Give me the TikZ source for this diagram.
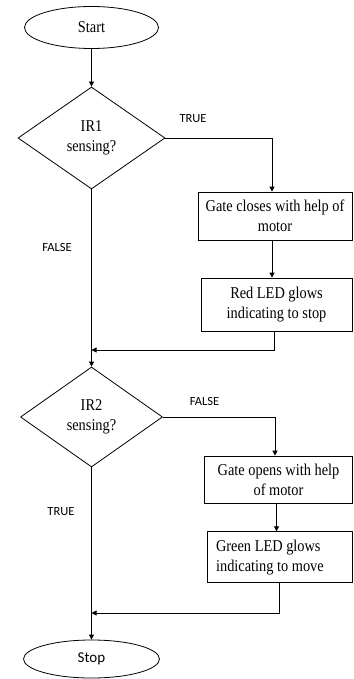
\documentclass[tikz,border=0pt]{standalone}
\usepackage{fontspec}
\setmainfont[FakeStretch=0.87]{Liberation Serif}
\newfontfamily\lblfont{Carlito}
\usetikzlibrary{shapes.geometric,arrows.meta}
\begin{document}
\begin{tikzpicture}[x=1pt,y=-1pt,
  every node/.style={font=\fontsize{16.5}{20}\selectfont, inner sep=0pt},
  term/.style={draw, ellipse, line width=0.8pt},
  decision/.style={draw, diamond, line width=0.8pt, align=center},
  procbox/.style={draw, rectangle, line width=0.8pt, align=center},
  lbl/.style={font=\lblfont\fontsize{12.5}{14}\selectfont},
  conn/.style={line width=0.8pt},
  arr/.style={conn, -{Triangle[length=5pt,width=5pt]}}
]
\useasboundingbox (0,0) rectangle (353,679);
\node[term, minimum width=134pt, minimum height=42pt] (start) at (91.5,27.5) {Start};
\node[decision, minimum width=147pt, minimum height=102pt] (d1) at (91.5,138) {IR1\\sensing?};
\node[procbox, minimum width=154pt, minimum height=48pt] (b1) at (275,216) {Gate closes with help of\\motor};
\node[procbox, minimum width=151pt, minimum height=53pt] (b2) at (276.5,304.5) {Red LED glows\\indicating to stop};
\node[decision, minimum width=142pt, minimum height=100pt] (d2) at (91.5,417) {IR2\\sensing?};
\node[procbox, minimum width=148pt, minimum height=47pt] (b3) at (278.5,479.5) {Gate opens with help\\of motor};
\node[procbox, minimum width=145pt, minimum height=51pt] (b4) at (279.8,557.2) {};
\node[align=left, anchor=west] (b4t) at ([xshift=9pt]b4.west) {Green LED glows\\indicating to move};
\node[term, font=\lblfont\fontsize{15}{18}\selectfont, minimum width=136pt, minimum height=38pt] (stop) at (91.5,659) {Stop};
\coordinate (m1) at (91.5,350);
\coordinate (m2) at (91.5,613);
\node[lbl] (t1) at (193,119) {TRUE};
\node[lbl] (f1) at (57,247) {FALSE};
\node[lbl] (f2) at (204.5,401.5) {FALSE};
\node[lbl] (t2) at (61,511.5) {TRUE};
\draw[arr] (start) -- (d1);
\draw[arr] (d1.east) -| ([xshift=-3pt]b1.north);
\draw[arr] ([xshift=-3pt]b1.south) -- ([xshift=-3pt]b1.south |- b2.north);
\draw[arr] ([xshift=-2.5pt]b2.south) |- (m1);
\draw[arr] (d1.south) -- (d2.north);
\draw[arr] (d2.east) -| ([xshift=-3.5pt]b3.north);
\draw[arr] ([xshift=-2pt]b3.south) -- ([xshift=-2pt]b3.south |- b4.north);
\draw[arr] (b4.south) |- (m2);
\draw[arr] (d2.south) -- (stop.north);
\end{tikzpicture}
\end{document}
